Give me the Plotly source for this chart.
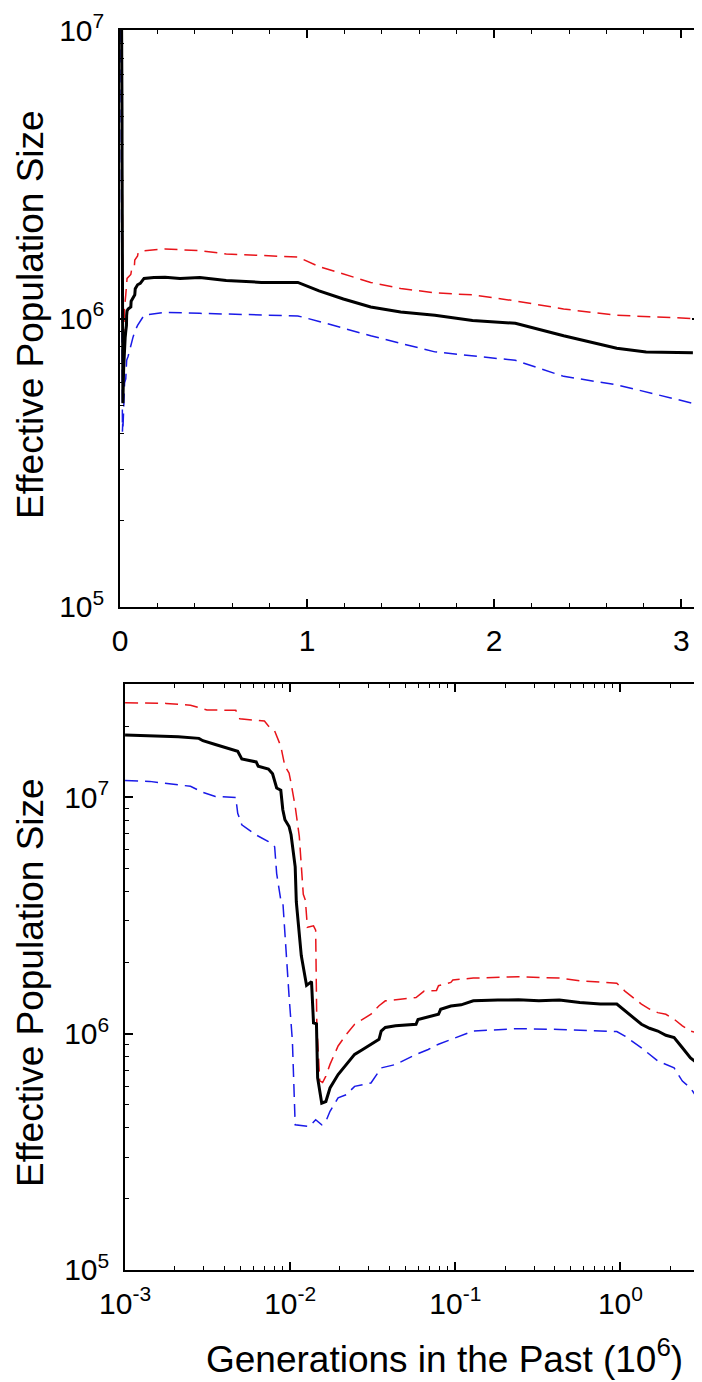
import plotly.graph_objects as go

# ---------------- data (generations in units of 10^6, effective population size) -------------
gen_mid = [0.00100, 0.00210, 0.00280, 0.00296, 0.00352, 0.00481, 0.00509, 0.00622, 0.00640,
           0.00738, 0.00782, 0.00828, 0.00877, 0.00902, 0.00929, 0.00984, 0.01012, 0.01040,
           0.01072, 0.01089, 0.01167, 0.01256, 0.01346, 0.01384, 0.01442, 0.01466, 0.01510,
           0.01552, 0.01644, 0.01742, 0.01950, 0.02188, 0.02455, 0.02748, 0.03083, 0.03451,
           0.03556, 0.03767, 0.04345, 0.05781, 0.05943, 0.06855, 0.07907, 0.08147, 0.09397,
           0.1084, 0.1285, 0.1811, 0.2410, 0.3206, 0.4266, 0.5675, 0.7551, 0.9506, 1.064,
           1.194, 1.340, 1.500, 1.683, 1.884, 2.113, 2.371, 2.655, 2.812, 3.062]
ne_mid = [1.837e7, 1.807e7, 1.778e7, 1.738e7, 1.675e7, 1.567e7, 1.455e7, 1.413e7, 1.355e7,
          1.318e7, 1.259e7, 1.096e7, 1.072e7, 8.87e6, 8.04e6, 7.53e6, 6.95e6, 5.98e6,
          5.08e6, 3.61e6, 2.14e6, 1.60e6, 1.66e6, 1.11e6, 1.10e6, 6.50e5, 5.61e5,
          5.08e5, 5.16e5, 5.89e5, 6.71e5, 7.41e5, 8.17e5, 8.57e5, 9.02e5, 9.46e5,
          1.026e6, 1.062e6, 1.079e6, 1.096e6, 1.148e6, 1.175e6, 1.208e6, 1.268e6, 1.309e6,
          1.324e6, 1.377e6, 1.387e6, 1.390e6, 1.377e6, 1.387e6, 1.355e6, 1.334e6, 1.334e6, 1.247e6,
          1.169e6, 1.096e6, 1.054e6, 1.026e6, 9.84e5, 9.62e5, 8.71e5, 7.89e5, 7.66e5, 7.60e5]

gen_up = [0.00100, 0.00177, 0.00249, 0.00280, 0.00313, 0.00468, 0.00495, 0.00698, 0.00738,
          0.00805, 0.00877, 0.00929, 0.00984, 0.01012, 0.01072, 0.01135, 0.01167, 0.01200,
          0.01236, 0.01271, 0.01384, 0.01426, 0.01449, 0.01510, 0.01571, 0.01644, 0.01742,
          0.01950, 0.02188, 0.02455, 0.03083, 0.03451, 0.03767, 0.05781, 0.06471, 0.07691,
          0.07907, 0.09397, 0.09661, 0.1285, 0.2410, 0.4266, 0.5675, 0.9506, 1.064, 1.340,
          1.500, 1.683, 1.884, 2.113, 2.371, 2.655, 3.062]
ne_up = [2.518e7, 2.500e7, 2.455e7, 2.399e7, 2.344e7, 2.339e7, 2.153e7, 2.104e7, 2.004e7,
         1.910e7, 1.648e7, 1.355e7, 1.268e7, 1.151e7, 9.16e6, 6.84e6, 5.08e6, 3.89e6,
         3.67e6, 2.82e6, 2.86e6, 2.74e6, 1.096e6, 6.31e5, 6.21e5, 6.61e5, 7.41e5,
         8.87e5, 9.93e5, 1.096e6, 1.208e6, 1.312e6, 1.377e6, 1.422e6, 1.514e6, 1.524e6,
         1.596e6, 1.648e6, 1.687e6, 1.718e6, 1.742e6, 1.718e6, 1.675e6, 1.633e6, 1.514e6, 1.334e6,
         1.271e6, 1.227e6, 1.208e6, 1.151e6, 1.079e6, 1.026e6, 1.000e6]

gen_low = [0.00100, 0.00141, 0.00249, 0.00296, 0.00352, 0.00468, 0.00481, 0.00509, 0.00622,
           0.00738, 0.00805, 0.00828, 0.00877, 0.00902, 0.00984, 0.01031, 0.01072, 0.01308,
           0.01426, 0.01552, 0.01644, 0.01742, 0.01950, 0.02188, 0.02455, 0.03083, 0.03556,
           0.04345, 0.05781, 0.06855, 0.07907, 0.09397, 0.1285, 0.2410, 0.4266, 0.9506,
           1.064, 1.340, 1.683, 2.113, 2.371, 2.655, 3.062]
ne_low = [1.180e7, 1.169e7, 1.114e7, 1.050e7, 1.009e7, 1.000e7, 8.57e6, 7.66e6, 6.93e6,
          6.50e6, 6.18e6, 4.76e6, 3.67e6, 3.63e6, 1.445e6, 9.31e5, 4.11e5, 4.05e5,
          4.32e5, 4.11e5, 4.25e5, 4.69e5, 5.35e5, 5.52e5, 5.98e5, 6.18e5, 7.16e5,
          7.40e5, 8.17e5, 8.57e5, 9.02e5, 9.46e5, 1.026e6, 1.050e6, 1.042e6, 1.021e6,
          9.77e5, 8.71e5, 7.66e5, 7.16e5, 6.30e5, 5.89e5, 5.08e5]

lin_ticks = [0, 1, 2, 3]
lin_ticktext = ["0", "1", "2", "3"]
logx_ticks = [1e-3, 1e-2, 1e-1, 1e0]
logx_ticktext = ["10<sup>-3</sup>", "10<sup>-2</sup>", "10<sup>-1</sup>", "10<sup>0</sup>"]
logy_ticks = [1e5, 1e6, 1e7]
logy_ticktext = ["10<sup>5</sup>", "10<sup>6</sup>", "10<sup>7</sup>"]

y_title = "Effective Population Size"
x_title = "Generations in the Past (10<sup>6</sup>)"

# ---------------- figure -------------
W, H = 702, 1382
FONT = "Liberation Sans, Arial, sans-serif"
RED = "#e8141a"
BLUE = "#1a1ae8"

fig = go.Figure()
for xa, ya in (("x", "y"), ("x2", "y2")):
    fig.add_trace(go.Scatter(x=gen_up, y=ne_up, mode="lines", xaxis=xa, yaxis=ya,
                             line=dict(color=RED, width=1.5, dash="13px,7px"), showlegend=False))
    fig.add_trace(go.Scatter(x=gen_low, y=ne_low, mode="lines", xaxis=xa, yaxis=ya,
                             line=dict(color=BLUE, width=1.5, dash="13px,7px"), showlegend=False))
    fig.add_trace(go.Scatter(x=gen_mid, y=ne_mid, mode="lines", xaxis=xa, yaxis=ya,
                             line=dict(color="black", width=3), showlegend=False))


def px_x(a, b):
    return [a / W, b / W]


def px_y(top, bottom):
    return [1 - bottom / H, 1 - top / H]


log_minor_y = [m * 10 ** e for e in (5, 6, 7) for m in range(2, 10)]
log_minor_x = [m * 10 ** e for e in (-3, -2, -1, 0) for m in range(2, 10)]

axis_common = dict(showline=True, linecolor="black", linewidth=1.5, mirror="ticks",
                   ticks="inside", ticklen=8, tickwidth=1.5, tickcolor="black",
                   showgrid=False, zeroline=False, automargin=False,
                   ticklabeloverflow="allow",
                   tickfont=dict(family=FONT, size=30, color="black"))
minor_common = dict(ticks="inside", ticklen=4, tickwidth=1.2, tickcolor="black", showgrid=False)

fig.update_layout(
    width=W, height=H, margin=dict(l=0, r=0, t=0, b=0),
    paper_bgcolor="white", plot_bgcolor="white", showlegend=False,
    xaxis=dict(domain=px_x(112, 692), range=[0, 3.1], anchor="y",
               tickmode="array", tickvals=lin_ticks, ticktext=lin_ticktext,
               minor=dict(tickmode="linear", tick0=0, dtick=0.2, **minor_common),
               ticklabelstandoff=6, **axis_common),
    yaxis=dict(domain=px_y(22, 599), type="log", range=[4.9995, 7.0005], anchor="x",
               tickmode="array", tickvals=logy_ticks, ticktext=logy_ticktext,
               minor=dict(tickmode="array", tickvals=log_minor_y, **minor_common),
               ticklabelstandoff=8, **axis_common),
    xaxis2=dict(domain=px_x(117, 697), type="log", range=[-3.0005, 0.512], anchor="y2",
                tickmode="array", tickvals=logx_ticks, ticktext=logx_ticktext,
                minor=dict(tickmode="array", tickvals=log_minor_x, **minor_common),
                ticklabelstandoff=6, **axis_common),
    yaxis2=dict(domain=px_y(676, 1262), type="log", range=[4.9995, 7.48], anchor="x2",
                tickmode="array", tickvals=logy_ticks, ticktext=logy_ticktext,
                minor=dict(tickmode="array", tickvals=log_minor_y, **minor_common),
                ticklabelstandoff=8, **axis_common),
)

title_font = dict(family=FONT, size=37, color="black")
fig.add_annotation(text=y_title, xref="paper", yref="paper", x=22 / W, y=1 - 307 / H,
                   textangle=-90, showarrow=False, font=title_font, xanchor="center", yanchor="middle")
fig.add_annotation(text=y_title, xref="paper", yref="paper", x=22 / W, y=1 - 975 / H,
                   textangle=-90, showarrow=False, font=title_font, xanchor="center", yanchor="middle")
fig.add_annotation(text=x_title, xref="paper", yref="paper", x=436 / W, y=1 - 1348 / H,
                   showarrow=False, font=title_font, xanchor="center", yanchor="middle")

fig.write_html("out.html")
